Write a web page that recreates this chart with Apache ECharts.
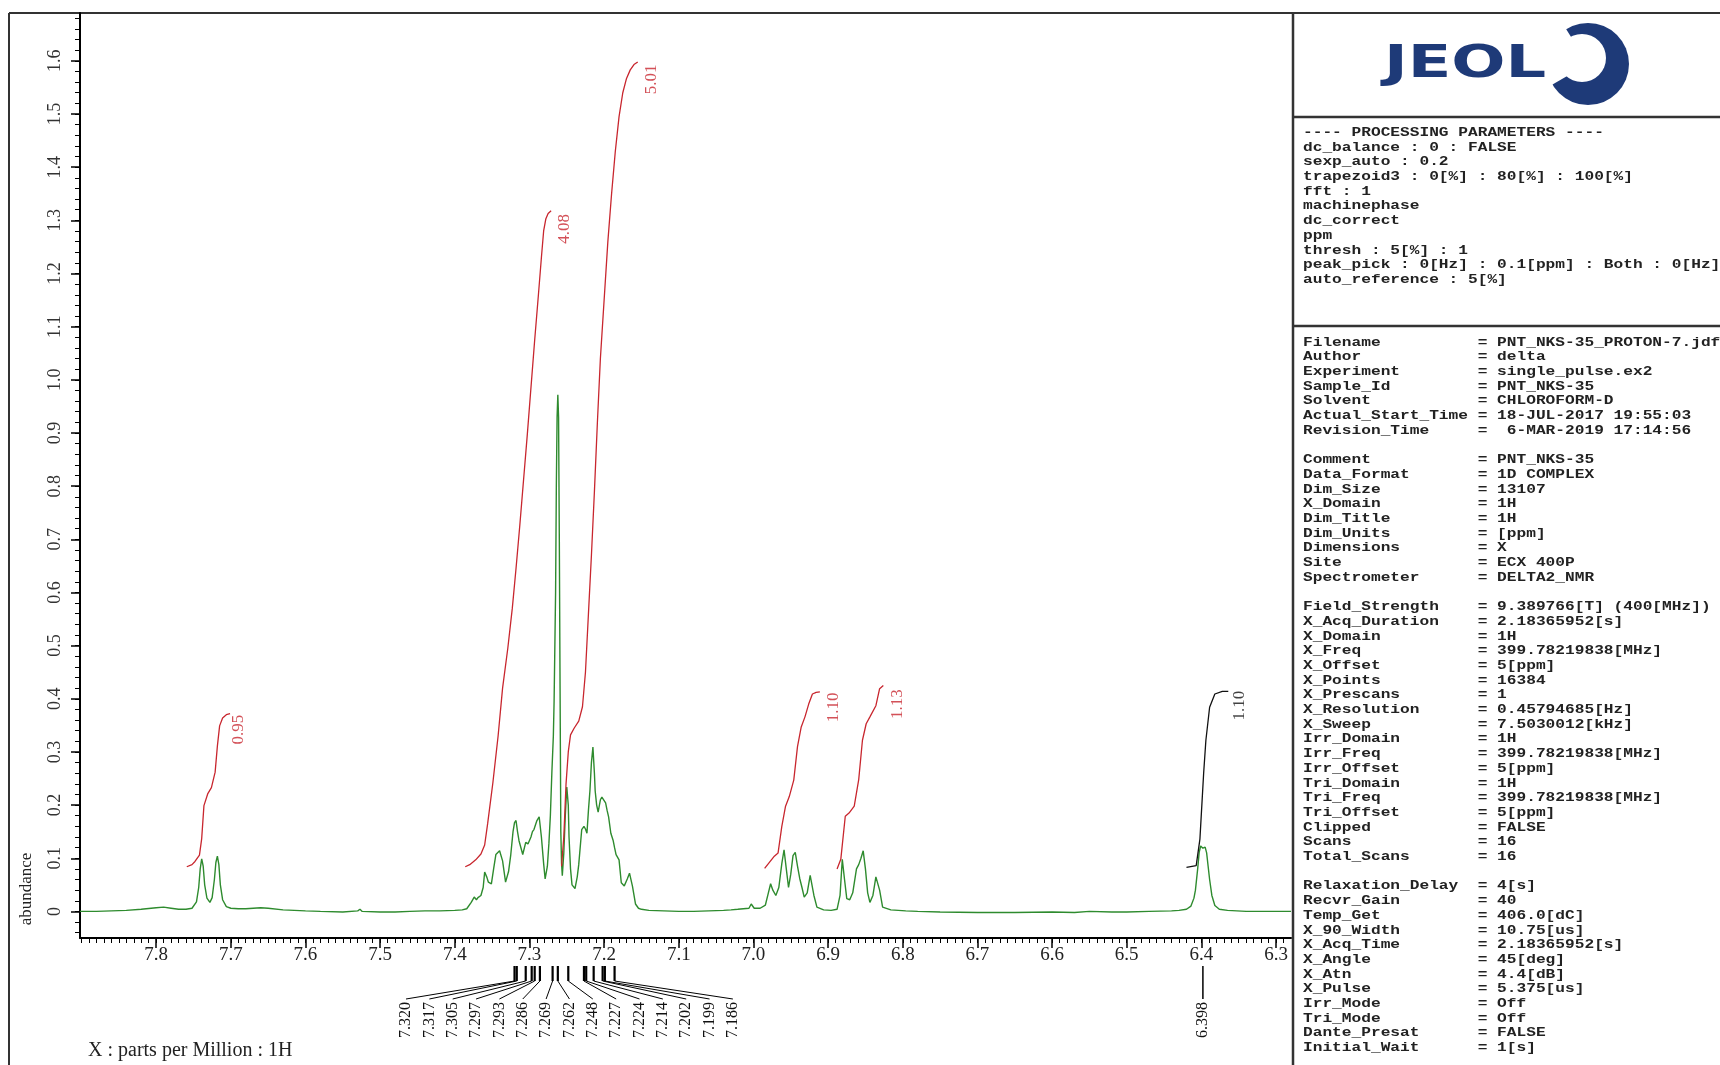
<!DOCTYPE html>
<html>
<head>
<meta charset="utf-8">
<script src="https://cdn.jsdelivr.net/npm/echarts@6/dist/echarts.min.js"></script>
<style>
html,body{margin:0;padding:0;background:#fff;}
#chart{width:1720px;height:1065px;}
</style>
</head>
<body>
<div id="chart"></div>
<script>
// ---------------- DATA ----------------
const xMajorTicks = [7.8,7.7,7.6,7.5,7.4,7.3,7.2,7.1,7.0,6.9,6.8,6.7,6.6,6.5,6.4,6.3];
const xTickLabels = ['7.8','7.7','7.6','7.5','7.4','7.3','7.2','7.1','7.0','6.9','6.8','6.7','6.6','6.5','6.4','6.3'];
const yMajorTicks = [0,0.1,0.2,0.3,0.4,0.5,0.6,0.7,0.8,0.9,1.0,1.1,1.2,1.3,1.4,1.5,1.6];
const yTickLabels = ['0','0.1','0.2','0.3','0.4','0.5','0.6','0.7','0.8','0.9','1.0','1.1','1.2','1.3','1.4','1.5','1.6'];

// spectrum [ppm, abundance]
const spectrum = [
[7.902,0.000],[7.88,0.000],[7.86,0.001],[7.84,0.002],[7.82,0.004],[7.80,0.007],[7.79,0.008],[7.78,0.006],[7.77,0.004],[7.76,0.004],
[7.752,0.006],[7.746,0.018],[7.743,0.045],[7.741,0.080],[7.739,0.099],[7.737,0.085],[7.735,0.050],[7.732,0.025],[7.728,0.017],[7.725,0.026],
[7.722,0.060],[7.720,0.092],[7.718,0.104],[7.716,0.088],[7.714,0.050],[7.711,0.022],[7.706,0.009],[7.70,0.006],[7.69,0.005],[7.68,0.005],
[7.67,0.006],[7.66,0.007],[7.65,0.006],[7.63,0.003],[7.60,0.001],[7.58,0.000],[7.55,-0.001],[7.53,0.001],[7.527,0.004],[7.524,0.000],
[7.50,-0.001],[7.48,-0.001],[7.46,0.000],[7.44,0.001],[7.42,0.001],[7.40,0.002],[7.39,0.003],
[7.384,0.005],[7.378,0.017],[7.374,0.027],[7.371,0.022],[7.369,0.026],[7.365,0.030],[7.362,0.045],[7.360,0.074],[7.357,0.064],[7.355,0.055],
[7.351,0.052],[7.348,0.080],[7.345,0.107],[7.340,0.114],[7.336,0.095],[7.332,0.055],[7.328,0.075],[7.325,0.107],[7.322,0.150],[7.320,0.167],
[7.318,0.171],[7.316,0.150],[7.314,0.133],[7.309,0.107],[7.305,0.130],[7.302,0.127],[7.298,0.140],[7.296,0.150],[7.294,0.154],[7.290,0.171],
[7.287,0.178],[7.284,0.140],[7.281,0.090],[7.279,0.061],[7.276,0.085],[7.274,0.127],[7.272,0.180],[7.270,0.261],[7.268,0.330],[7.267,0.395],
[7.265,0.600],[7.264,0.800],[7.263,0.930],[7.262,0.972],[7.261,0.930],[7.260,0.700],[7.259,0.420],[7.258,0.150],[7.257,0.090],[7.256,0.067],
[7.254,0.110],[7.252,0.180],[7.250,0.234],[7.248,0.200],[7.247,0.140],[7.245,0.080],[7.243,0.050],[7.239,0.043],[7.236,0.065],[7.234,0.088],
[7.230,0.154],[7.227,0.160],[7.225,0.155],[7.223,0.147],[7.221,0.190],[7.219,0.227],[7.217,0.280],[7.215,0.309],[7.213,0.260],[7.212,0.227],
[7.210,0.200],[7.208,0.187],[7.205,0.210],[7.203,0.215],[7.201,0.214],[7.198,0.204],[7.196,0.190],[7.194,0.178],[7.191,0.147],[7.188,0.134],
[7.186,0.120],[7.184,0.107],[7.180,0.097],[7.177,0.054],[7.173,0.048],[7.169,0.061],[7.166,0.072],[7.165,0.074],[7.162,0.047],[7.158,0.014],
[7.154,0.006],[7.150,0.004],[7.14,0.002],[7.12,0.001],[7.10,0.000],[7.08,0.000],[7.06,0.001],[7.04,0.002],[7.03,0.003],
[7.021,0.004],[7.006,0.006],[7.003,0.014],[6.999,0.006],[6.991,0.006],[6.984,0.012],[6.980,0.035],[6.977,0.052],[6.974,0.040],[6.970,0.030],
[6.966,0.045],[6.962,0.090],[6.959,0.116],[6.956,0.080],[6.953,0.045],[6.950,0.070],[6.947,0.105],[6.944,0.111],[6.941,0.085],[6.938,0.062],
[6.935,0.045],[6.932,0.027],[6.928,0.035],[6.924,0.068],[6.922,0.070],[6.919,0.030],[6.915,0.008],[6.906,0.003],[6.896,0.002],[6.888,0.004],
[6.884,0.030],[6.881,0.098],[6.878,0.060],[6.875,0.024],[6.871,0.022],[6.867,0.035],[6.862,0.080],[6.859,0.088],[6.856,0.100],[6.853,0.114],
[6.850,0.080],[6.847,0.035],[6.844,0.017],[6.840,0.030],[6.836,0.065],[6.834,0.067],[6.831,0.040],[6.827,0.008],[6.816,0.003],[6.796,0.001],
[6.78,0.000],[6.75,-0.001],[6.70,-0.002],[6.65,-0.002],[6.60,-0.001],[6.57,-0.002],[6.55,0.000],[6.52,-0.001],[6.50,-0.001],[6.47,0.000],
[6.44,0.001],[6.430,0.002],[6.420,0.004],[6.414,0.010],[6.410,0.025],[6.408,0.040],[6.405,0.080],[6.403,0.111],[6.401,0.123],[6.398,0.119],
[6.395,0.121],[6.393,0.110],[6.391,0.085],[6.389,0.060],[6.386,0.030],[6.382,0.011],[6.376,0.004],[6.365,0.002],[6.34,0.000],[6.30,0.000],[6.28,0.000]
];

// integral curves [ppm, abundance-scale height]
const integral095 = [[7.759,0.084],[7.752,0.088],[7.748,0.094],[7.742,0.106],[7.739,0.137],[7.736,0.199],[7.731,0.221],[7.726,0.233],[7.721,0.262],[7.718,0.311],[7.715,0.349],[7.711,0.364],[7.706,0.370],[7.701,0.372]];
const integral408 = [[7.386,0.084],[7.380,0.088],[7.372,0.097],[7.365,0.108],[7.360,0.125],[7.356,0.165],[7.349,0.242],[7.342,0.330],[7.336,0.420],[7.329,0.495],[7.323,0.570],[7.318,0.645],[7.313,0.725],[7.308,0.810],[7.303,0.895],[7.298,0.985],[7.293,1.075],[7.288,1.160],[7.284,1.230],[7.281,1.280],[7.278,1.303],[7.275,1.313],[7.271,1.318]];
const integral501 = [[7.257,0.085],[7.254,0.140],[7.251,0.240],[7.248,0.300],[7.245,0.332],[7.240,0.345],[7.234,0.358],[7.229,0.385],[7.225,0.450],[7.221,0.560],[7.217,0.670],[7.213,0.790],[7.209,0.920],[7.205,1.040],[7.200,1.150],[7.195,1.260],[7.190,1.350],[7.185,1.430],[7.180,1.495],[7.175,1.540],[7.170,1.567],[7.165,1.583],[7.160,1.593],[7.155,1.598]];
const integral110a = [[6.985,0.081],[6.972,0.104],[6.967,0.110],[6.962,0.160],[6.957,0.198],[6.952,0.216],[6.946,0.247],[6.941,0.310],[6.936,0.347],[6.931,0.366],[6.926,0.390],[6.921,0.409],[6.916,0.412],[6.911,0.413]];
const integral113 = [[6.888,0.080],[6.883,0.098],[6.877,0.179],[6.872,0.185],[6.865,0.198],[6.859,0.248],[6.854,0.322],[6.849,0.353],[6.844,0.366],[6.836,0.387],[6.831,0.419],[6.826,0.425]];
const integral110b = [[6.420,0.083],[6.407,0.086],[6.402,0.136],[6.397,0.260],[6.394,0.322],[6.389,0.384],[6.382,0.409],[6.372,0.414],[6.364,0.414]];

// integral values [label, ppm, height]
const integralLabels = [['0.95',7.689,0.342],['4.08',7.253,1.284],['5.01',7.136,1.565],['1.10',6.893,0.384],['1.13',6.807,0.390],['1.10',6.349,0.387]];
const integralLabelColors = ['#c8262e','#c8262e','#c8262e','#c8262e','#c8262e','#111111'];

// picked peaks
const peakCluster = [7.320,7.317,7.305,7.297,7.293,7.286,7.269,7.262,7.248,7.227,7.224,7.214,7.202,7.199,7.186];
const peakCluster_labels = ['7.320','7.317','7.305','7.297','7.293','7.286','7.269','7.262','7.248','7.227','7.224','7.214','7.202','7.199','7.186'];
const peakSingle = [6.398];
const peakSingle_labels = ['6.398'];

// right-hand parameter panel
const processingLines = [
'---- PROCESSING PARAMETERS ----',
'dc_balance : 0 : FALSE',
'sexp_auto : 0.2',
'trapezoid3 : 0[%] : 80[%] : 100[%]',
'fft : 1',
'machinephase',
'dc_correct',
'ppm',
'thresh : 5[%] : 1',
'peak_pick : 0[Hz] : 0.1[ppm] : Both : 0[Hz]',
'auto_reference : 5[%]'
];
const paramKeys = ['Filename','Author','Experiment','Sample_Id','Solvent','Actual_Start_Time','Revision_Time','',
'Comment','Data_Format','Dim_Size','X_Domain','Dim_Title','Dim_Units','Dimensions','Site','Spectrometer','',
'Field_Strength','X_Acq_Duration','X_Domain','X_Freq','X_Offset','X_Points','X_Prescans','X_Resolution','X_Sweep','Irr_Domain','Irr_Freq','Irr_Offset','Tri_Domain','Tri_Freq','Tri_Offset','Clipped','Scans','Total_Scans','',
'Relaxation_Delay','Recvr_Gain','Temp_Get','X_90_Width','X_Acq_Time','X_Angle','X_Atn','X_Pulse','Irr_Mode','Tri_Mode','Dante_Presat','Initial_Wait'];
const paramValues = ['PNT_NKS-35_PROTON-7.jdf','delta','single_pulse.ex2','PNT_NKS-35','CHLOROFORM-D','18-JUL-2017 19:55:03',' 6-MAR-2019 17:14:56','',
'PNT_NKS-35','1D COMPLEX','13107','1H','1H','[ppm]','X','ECX 400P','DELTA2_NMR','',
'9.389766[T] (400[MHz])','2.18365952[s]','1H','399.78219838[MHz]','5[ppm]','16384','1','0.45794685[Hz]','7.5030012[kHz]','1H','399.78219838[MHz]','5[ppm]','1H','399.78219838[MHz]','5[ppm]','FALSE','16','16','',
'4[s]','40','406.0[dC]','10.75[us]','2.18365952[s]','45[deg]','4.4[dB]','5.375[us]','Off','Off','FALSE','1[s]'];

// ---------------- CHART ----------------
const X_MIN = 6.28, X_MAX = 7.902, Y_MIN = -0.05, Y_MAX = 1.69;
const GRID = {left: 80, top: 13, width: 1211, height: 925};
const serif = '"Liberation Serif", "Times New Roman", serif';
const mono = '"Liberation Mono", "DejaVu Sans Mono", monospace';

const xMinorTicks = [];
for (let k = 629; k <= 790; k++) xMinorTicks.push(k / 100);
const yMinorTicks = [];
for (let k = -2; k <= 84; k++) yMinorTicks.push(Math.round(k * 2) / 100);

function lookup(ticks, labels) {
  return function (v) {
    for (let i = 0; i < ticks.length; i++) if (Math.abs(ticks[i] - v) < 1e-6) return labels[i];
    return '';
  };
}

const RED = '#c8262e';
const NAVY = '#1e3a78';
const integralSeries = [integral095, integral408, integral501, integral110a, integral113, integral110b].map((d, i) => ({
  type: 'line', data: d, showSymbol: false, symbol: 'none', silent: true, animation: false,
  lineStyle: {color: i === 5 ? '#111' : RED, width: 1.3}, z: 3, xAxisIndex: 0, yAxisIndex: 0
}));

function peakRenderer(labels, fanned) {
  return function (params, api) {
    const i = params.dataIndex;
    const px = api.coord([api.value(0), 0])[0];
    const lx = fanned ? 406 + i * 23.35 : px;
    const children = [];
    if (fanned) {
      children.push({type: 'line', shape: {x1: px, y1: 966, x2: px, y2: 981}, style: {stroke: '#000', lineWidth: 2.2}});
      children.push({type: 'line', shape: {x1: px, y1: 981, x2: lx, y2: 999}, style: {stroke: '#000', lineWidth: 1}});
    } else {
      children.push({type: 'line', shape: {x1: px, y1: 966, x2: px, y2: 999}, style: {stroke: '#000', lineWidth: 1.5}});
    }
    children.push({type: 'text', x: lx, y: 1002, rotation: Math.PI / 2,
      style: {text: labels[i], align: 'right', verticalAlign: 'middle', textAlign: 'right', textVerticalAlign: 'middle', font: '16px ' + serif, fill: '#111'}});
    return {type: 'group', children: children};
  };
}

const graphics = [];
// frame
graphics.push({type: 'line', shape: {x1: 9, y1: 13, x2: 1720, y2: 13}, style: {stroke: '#333', lineWidth: 2}});
graphics.push({type: 'line', shape: {x1: 9, y1: 13, x2: 9, y2: 1065}, style: {stroke: '#333', lineWidth: 2}});
graphics.push({type: 'line', shape: {x1: 1293, y1: 13, x2: 1293, y2: 1065}, style: {stroke: '#333', lineWidth: 2.5}});
graphics.push({type: 'line', shape: {x1: 1293, y1: 117, x2: 1720, y2: 117}, style: {stroke: '#333', lineWidth: 2.5}});
graphics.push({type: 'line', shape: {x1: 1293, y1: 326, x2: 1720, y2: 326}, style: {stroke: '#333', lineWidth: 2.5}});
// logo ring (eccentric crescent)
graphics.push({type: 'circle', shape: {cx: 1588, cy: 64, r: 41}, style: {fill: NAVY}, z: 10});
graphics.push({type: 'circle', shape: {cx: 1582, cy: 58, r: 24}, style: {fill: '#fff'}, z: 11});
graphics.push({type: 'sector', shape: {cx: 1588, cy: 64, r: 44, r0: 0, startAngle: 150 * Math.PI / 180, endAngle: 238 * Math.PI / 180, clockwise: true}, style: {fill: '#fff'}, z: 12});
// logo text
graphics.push({type: 'text', x: 1384, y: 66, scaleX: 1.45, scaleY: 1, z: 13,
  style: {text: 'JEOL', font: 'bold 44px "DejaVu Sans"', fill: NAVY, verticalAlign: 'middle', textVerticalAlign: 'middle'}});
// processing parameters
processingLines.forEach((t, i) => {
  graphics.push({type: 'text', x: 1303, y: 132.7 + i * 14.7, scaleX: 1.244,
    style: {text: t, font: 'bold 13px ' + mono, fill: '#222', verticalAlign: 'middle', textVerticalAlign: 'middle'}});
});
// acquisition parameters
paramKeys.forEach((k, i) => {
  if (!k) return;
  const t = (k + '                  ').slice(0, 18) + '= ' + paramValues[i];
  graphics.push({type: 'text', x: 1303, y: 342.3 + i * 14.7, scaleX: 1.244,
    style: {text: t, font: 'bold 13px ' + mono, fill: '#222', verticalAlign: 'middle', textVerticalAlign: 'middle'}});
});
// axis titles
graphics.push({type: 'text', x: 27, y: 889, rotation: Math.PI / 2,
  style: {text: 'abundance', font: '17px ' + serif, fill: '#222', align: 'center', verticalAlign: 'middle', textAlign: 'center', textVerticalAlign: 'middle'}});
graphics.push({type: 'text', x: 88, y: 1051,
  style: {text: 'X : parts per Million : 1H', font: '20px ' + serif, fill: '#222', verticalAlign: 'middle', textVerticalAlign: 'middle'}});

const chart = echarts.init(document.getElementById('chart'), null, {renderer: 'canvas', width: 1720, height: 1065});
chart.setOption({
  backgroundColor: '#fff',
  animation: false,
  grid: GRID,
  xAxis: [
    {type: 'value', min: X_MIN, max: X_MAX, inverse: true, position: 'bottom',
      axisLine: {show: true, onZero: false, lineStyle: {color: '#000', width: 2}},
      axisTick: {show: true, inside: false, length: 10, customValues: xMajorTicks, lineStyle: {color: '#000', width: 1.5}},
      axisLabel: {show: true, customValues: xMajorTicks, formatter: lookup(xMajorTicks, xTickLabels), fontFamily: serif, fontSize: 19, color: '#222', margin: 8},
      splitLine: {show: false}},
    {type: 'value', min: X_MIN, max: X_MAX, inverse: true, position: 'bottom', offset: 0,
      axisLine: {show: false, onZero: false},
      axisTick: {show: true, inside: false, length: 5, customValues: xMinorTicks, lineStyle: {color: '#000', width: 1}},
      axisLabel: {show: false}, splitLine: {show: false}}
  ],
  yAxis: [
    {type: 'value', min: Y_MIN, max: Y_MAX, position: 'left',
      axisLine: {show: true, onZero: false, lineStyle: {color: '#000', width: 2}},
      axisTick: {show: true, inside: false, length: 9, customValues: yMajorTicks, lineStyle: {color: '#000', width: 1.5}},
      axisLabel: {show: true, customValues: yMajorTicks, rotate: 90, formatter: lookup(yMajorTicks, yTickLabels), fontFamily: serif, fontSize: 18, color: '#333', margin: 16},
      splitLine: {show: false}},
    {type: 'value', min: Y_MIN, max: Y_MAX, position: 'left', offset: 0,
      axisLine: {show: false, onZero: false},
      axisTick: {show: true, inside: false, length: 5, customValues: yMinorTicks, lineStyle: {color: '#000', width: 1}},
      axisLabel: {show: false}, splitLine: {show: false}}
  ],
  series: [
    {type: 'line', name: 'spectrum', data: spectrum, showSymbol: false, symbol: 'none', silent: true, animation: false,
      lineStyle: {color: '#2e8b2e', width: 1.4}, z: 2, xAxisIndex: 0, yAxisIndex: 0},
    ...integralSeries,
    {type: 'scatter', data: integralLabels.map((d, i) => ({value: [d[1], d[2]], label: {formatter: d[0], color: integralLabelColors[i]}})),
      symbolSize: 0, silent: true, xAxisIndex: 0, yAxisIndex: 0, z: 4,
      label: {show: true, position: 'inside', rotate: 90, fontFamily: serif, fontSize: 17, align: 'center', verticalAlign: 'middle'}},
    {type: 'custom', data: peakCluster.map(v => [v, 0]), renderItem: peakRenderer(peakCluster_labels, true), clip: false, silent: true, xAxisIndex: 0, yAxisIndex: 0},
    {type: 'custom', data: peakSingle.map(v => [v, 0]), renderItem: peakRenderer(peakSingle_labels, false), clip: false, silent: true, xAxisIndex: 0, yAxisIndex: 0}
  ],
  graphic: {elements: graphics}
});
</script>
</body>
</html>
